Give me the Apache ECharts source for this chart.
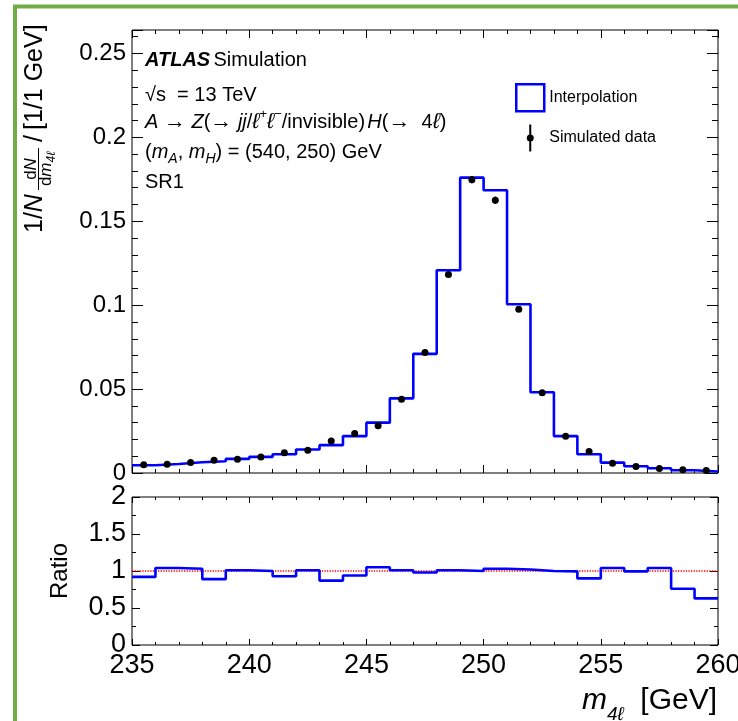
<!DOCTYPE html>
<html>
<head>
<meta charset="utf-8">
<script src="https://cdn.jsdelivr.net/npm/echarts@6.0.0/dist/echarts.min.js"></script>
<style>
html,body{margin:0;padding:0;background:#ffffff;}
#chart{width:738px;height:721px;}
</style>
</head>
<body>
<div id="chart"></div>
<script>
// ---------------- data ----------------
const binEdges = [235,236,237,238,239,240,241,242,243,244,245,246,247,248,249,250,251,252,253,254,255,256,257,258,259,260];
const binCenters = [235.5,236.5,237.5,238.5,239.5,240.5,241.5,242.5,243.5,244.5,245.5,246.5,247.5,248.5,249.5,250.5,251.5,252.5,253.5,254.5,255.5,256.5,257.5,258.5,259.5];
const interpolation = [0.0046,0.0054,0.0064,0.0070,0.0084,0.0096,0.0112,0.0140,0.0166,0.0220,0.0300,0.0445,0.0710,0.1208,0.1760,0.1685,0.1006,0.0481,0.0220,0.0112,0.0062,0.0040,0.0028,0.0016,0.0009];
const simulated = [0.0049,0.0052,0.0062,0.0076,0.0082,0.0096,0.0120,0.0136,0.0190,0.0236,0.0282,0.0440,0.0718,0.1183,0.1748,0.1625,0.0976,0.0478,0.0219,0.0128,0.0058,0.0039,0.0027,0.0020,0.0015];
const simulatedErr = [0.0002,0.0002,0.0002,0.0003,0.0003,0.0003,0.0004,0.0004,0.0005,0.0005,0.0006,0.0008,0.0011,0.0016,0.0022,0.0022,0.0015,0.0009,0.0006,0.0004,0.0003,0.0002,0.0002,0.0002,0.0001];
const ratio = [0.92,1.04,1.03,0.89,1.01,1.00,0.93,1.01,0.87,0.94,1.05,1.01,0.98,1.01,1.00,1.03,1.02,1.00,0.995,0.90,1.04,0.995,1.04,0.76,0.63];
const ratioReference = 1;

const xTickValues = [235,240,245,250,255,260];
const mainYTicks = [0,0.05,0.1,0.15,0.2,0.25];
const mainYMinorStep = 0.01;
const mainYMax = 0.264;
const ratioYTicks = [0,0.5,1,1.5,2];

const seriesNames = ['Interpolation','Simulated data'];
const annotationLines = [
  '{b|ATLAS} {n|Simulation}',
  '{n|√s  = 13 TeV}',
  '{i|A}{n| }{a|→}{n| }{i|Z}{n|(}{a|→}{n| }{i|jj}{n|/}{l|ℓ}{p|+}{l|ℓ}{p|−}{n|/invisible)}{t| }{i|H}{n|(}{a|→}{n|  4}{l|ℓ}{n|)}',
  '{n|(}{i|m}{s|A}{n|, }{i|m}{s|H}{n|) = (540, 250) GeV}',
  '{n|SR1}'
];

// ---------------- chart ----------------
const FONT = '"Liberation Sans", Arial, Helvetica, sans-serif';
const BLUE = '#0000ff';
const GRID_W = 586, MAIN_H = 443, RATIO_H = 148;
const chart = echarts.init(document.getElementById('chart'), null, {renderer:'canvas', width:738, height:721});

const stepData = (vals) => binEdges.map((e, i) => [e, vals[Math.min(i, vals.length - 1)]]);
const xMin = xTickValues[0], xMax = xTickValues[xTickValues.length - 1];
const xInterval = xTickValues[1] - xTickValues[0];
const mainInterval = mainYTicks[1] - mainYTicks[0];
const ratioInterval = ratioYTicks[1] - ratioYTicks[0];
const ratioMax = ratioYTicks[ratioYTicks.length - 1];

const hidden = {show:false};
// x axis: either a label axis (no ticks) or a tick axis placed on the opposite grid edge so that its ticks point inward
function xAxisCfg(gridIndex, position, offset, showLabels, majorLen, minorLen) {
  const ticks = majorLen > 0;
  return {
    type:'value', gridIndex, position, offset,
    min:xMin, max:xMax, interval:xInterval,
    axisLine:{show:false, onZero:false},
    axisTick:ticks ? {show:true, length:majorLen, lineStyle:{color:'#000', width:1}} : hidden,
    minorTick:ticks ? {show:true, splitNumber:5, length:minorLen, lineStyle:{color:'#000', width:1}} : hidden,
    splitLine:hidden, minorSplitLine:hidden,
    axisLabel:{show:showLabels, fontSize:27, fontFamily:FONT, color:'#000', margin:7, showMinLabel:true, showMaxLabel:true}
  };
}
function yAxisCfg(gridIndex, position, offset, max, interval, majorLen, minorSplit, minorLen, labels, extra) {
  const ticks = majorLen > 0;
  return Object.assign({
    type:'value', gridIndex, position, offset, min:0, max, interval,
    axisLine:{show:false, onZero:false},
    axisTick:ticks ? {show:true, length:majorLen, lineStyle:{color:'#000', width:1}} : hidden,
    minorTick:(ticks && minorSplit) ? {show:true, splitNumber:minorSplit, length:minorLen, lineStyle:{color:'#000', width:1}} : hidden,
    splitLine:hidden, minorSplitLine:hidden,
    axisLabel:labels ? Object.assign({show:true, fontFamily:FONT, color:'#000', margin:6}, labels) : hidden
  }, extra || {});
}

const option = {
  animation:false,
  backgroundColor:'#ffffff',
  grid:[
    {left:132, top:30, width:GRID_W, height:MAIN_H, show:true, borderColor:'#000', borderWidth:1, backgroundColor:'rgba(0,0,0,0)', containLabel:false, outerBoundsMode:'none'},
    {left:132, top:497, width:GRID_W, height:RATIO_H, show:true, borderColor:'#000', borderWidth:1, backgroundColor:'rgba(0,0,0,0)', containLabel:false, outerBoundsMode:'none'}
  ],
  xAxis:[
    xAxisCfg(0,'top',-MAIN_H,false,8,4),      // 0: ticks on bottom edge of main panel
    xAxisCfg(0,'bottom',-MAIN_H,false,8,4),   // 1: ticks on top edge of main panel
    xAxisCfg(1,'bottom',0,true,0,0),          // 2: labels of ratio panel
    xAxisCfg(1,'top',-RATIO_H,false,6,3),     // 3: ticks on bottom edge of ratio panel
    xAxisCfg(1,'bottom',-RATIO_H,false,6,3)   // 4: ticks on top edge of ratio panel
  ],
  yAxis:[
    yAxisCfg(0,'left',0,mainYMax,mainInterval,0,0,0,{fontSize:24, showMaxLabel:false}),        // 0 labels
    yAxisCfg(0,'right',-GRID_W,mainYMax,mainInterval,11,0,0,null),                            // 1 left major ticks
    yAxisCfg(0,'right',-GRID_W,mainYMax,mainYMinorStep,6,0,0,null),                           // 2 left minor ticks
    yAxisCfg(0,'left',-GRID_W,mainYMax,mainInterval,11,0,0,null),                             // 3 right major ticks
    yAxisCfg(0,'left',-GRID_W,mainYMax,mainYMinorStep,6,0,0,null),                            // 4 right minor ticks
    yAxisCfg(1,'left',0,ratioMax,ratioInterval,0,0,0,{fontSize:27, showMaxLabel:true}, {       // 5 ratio labels
      name:'Ratio', nameLocation:'middle', nameRotate:90, nameGap:60,
      nameTextStyle:{fontSize:24, fontFamily:FONT, color:'#000'}
    }),
    yAxisCfg(1,'right',-GRID_W,ratioMax,ratioInterval,8,2,4,null),                            // 6 left ticks
    yAxisCfg(1,'left',-GRID_W,ratioMax,ratioInterval,8,2,4,null)                              // 7 right ticks
  ],
  legend:{
    orient:'vertical', left:515, top:83, padding:0, itemWidth:28, itemHeight:27, itemGap:12,
    selectedMode:false,
    textStyle:{fontSize:16, fontFamily:FONT, color:'#000'},
    data:[
      {name:seriesNames[0], icon:'rect', itemStyle:{color:'rgba(0,0,0,0)', borderColor:BLUE, borderWidth:2.5}},
      {name:seriesNames[1], icon:'path://M2.5,0H4.5V27H2.5Z M0,13.5A3.5,3.5,0,1,1,7,13.5A3.5,3.5,0,1,1,0,13.5Z', itemStyle:{color:'#000', opacity:1}}
    ]
  },
  series:[
    {
      name:'reference', type:'line', xAxisIndex:2, yAxisIndex:5, z:2,
      showSymbol:false, symbol:'none', silent:true,
      data:[[xMin, ratioReference],[xMax, ratioReference]],
      lineStyle:{color:'#ff0000', type:'dotted', width:1.3}
    },
    {
      name:seriesNames[0], type:'line', xAxisIndex:0, yAxisIndex:0,
      step:'end', showSymbol:false, symbol:'none',
      data: stepData(interpolation),
      lineStyle:{color:BLUE, width:2.6}, itemStyle:{color:BLUE}, z:2
    },
    {
      name:'errors', type:'custom', xAxisIndex:0, yAxisIndex:0, z:3,
      data: binCenters.map((c, i) => [c, simulated[i] - simulatedErr[i], simulated[i] + simulatedErr[i]]),
      encode:{x:0, y:[1,2]},
      renderItem:(params, api) => {
        const lo = api.coord([api.value(0), api.value(1)]);
        const hi = api.coord([api.value(0), api.value(2)]);
        return {type:'line', shape:{x1:lo[0], y1:lo[1], x2:hi[0], y2:hi[1]}, style:{stroke:'#000', lineWidth:1.6}};
      }
    },
    {
      name:seriesNames[1], type:'scatter', xAxisIndex:0, yAxisIndex:0, z:4,
      symbol:'circle', symbolSize:7,
      data: binCenters.map((c, i) => [c, simulated[i]]),
      itemStyle:{color:'#000', opacity:1}
    },
    {
      name:'ratio', type:'line', xAxisIndex:2, yAxisIndex:5,
      step:'end', showSymbol:false, symbol:'none',
      data: stepData(ratio),
      lineStyle:{color:BLUE, width:2.6}, z:3
    }
  ],
  graphic:[
    {type:'rect', shape:{x:15, y:6.5, width:900, height:900}, style:{fill:'none', stroke:'#70ad47', lineWidth:4}, z:100, silent:true},
    // y axis title of upper panel
    {type:'group', x:35, y:233, rotation:Math.PI/2, silent:true, children:[
      {type:'text', x:0, y:0, style:{text:'{r|1/}{i|N}', align:'left', verticalAlign:'middle',
        rich:{r:{fontSize:25, fontFamily:FONT, fill:'#000'}, i:{fontSize:25, fontFamily:FONT, fontStyle:'italic', fill:'#000'}}}},
      {type:'text', x:64, y:-4, style:{text:'{r|d}{i|N}', align:'center', verticalAlign:'middle',
        rich:{r:{fontSize:17, fontFamily:FONT, fill:'#000'}, i:{fontSize:17, fontFamily:FONT, fontStyle:'italic', fill:'#000'}}}},
      {type:'line', shape:{x1:43, y1:3.5, x2:85, y2:3.5}, style:{stroke:'#000', lineWidth:1}},
      {type:'text', x:64, y:11, style:{text:'{r|d}{i|m}{s|4ℓ}', align:'center', verticalAlign:'middle',
        rich:{r:{fontSize:17, fontFamily:FONT, fill:'#000', lineHeight:24}, i:{fontSize:17, fontFamily:FONT, fontStyle:'italic', fill:'#000', lineHeight:24},
              s:{fontSize:12, fontFamily:FONT, fontStyle:'italic', fill:'#000', lineHeight:12, verticalAlign:'bottom'}}}},
      {type:'text', x:91, y:0, style:{text:'/', align:'left', verticalAlign:'middle', fontSize:25, fontFamily:FONT, fill:'#000'}},
      {type:'text', x:103, y:0, style:{text:'[1/1 GeV]', align:'left', verticalAlign:'middle', fontSize:25, fontFamily:FONT, fill:'#000'}}
    ]},
    // x axis title
    {type:'text', x:717, y:701, silent:true, style:{text:'{i|m}{s|4ℓ}{r|  [GeV]}', align:'right', verticalAlign:'middle',
      rich:{i:{fontSize:30, fontFamily:FONT, fontStyle:'italic', fill:'#000', lineHeight:46},
            s:{fontSize:19, fontFamily:FONT, fontStyle:'italic', fill:'#000', lineHeight:19, verticalAlign:'bottom'},
            r:{fontSize:30, fontFamily:FONT, fill:'#000', lineHeight:46}}}},
    // annotation block
    ...annotationLines.map((t, k) => ({
      type:'text', x:145, y:[60,95,122,152,182][k], silent:true,
      style:{text:t, align:'left', verticalAlign:'middle',
        rich:{
          b:{fontSize:20, fontFamily:FONT, fontStyle:'italic', fontWeight:'bold', fill:'#000', lineHeight:28},
          n:{fontSize:20, fontFamily:FONT, fill:'#000', lineHeight:28},
          t:{fontSize:8, fontFamily:FONT, fill:'#000', lineHeight:28},
          a:{fontSize:22, fontFamily:FONT, fill:'#000', lineHeight:28},
          i:{fontSize:20, fontFamily:FONT, fontStyle:'italic', fill:'#000', lineHeight:28},
          l:{fontSize:22, fontFamily:FONT, fontStyle:'italic', fill:'#000', lineHeight:28},
          s:{fontSize:14, fontFamily:FONT, fontStyle:'italic', fill:'#000', lineHeight:14, verticalAlign:'bottom'},
          p:{fontSize:13, fontFamily:FONT, fill:'#000', lineHeight:13, verticalAlign:'top'}
        }}
    }))
  ]
};
chart.setOption(option);
</script>
</body>
</html>
